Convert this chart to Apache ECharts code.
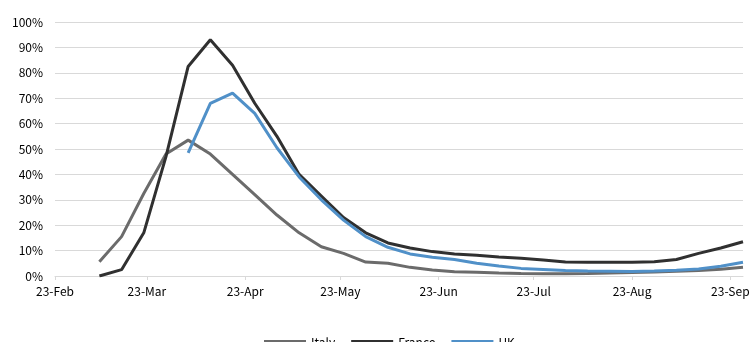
<!DOCTYPE html>
<html>
<head>
<meta charset="utf-8">
<script src="https://cdn.jsdelivr.net/npm/echarts@6/dist/echarts.min.js"></script>
<style>
html,body{margin:0;padding:0;background:#fff;}
#chart{width:754px;height:342px;}
</style>
</head>
<body>
<div id="chart"></div>
<script>
// Weekly observation dates
var dates = ['2020-03-08','2020-03-15','2020-03-22','2020-03-29','2020-04-05','2020-04-12','2020-04-19','2020-04-26',
  '2020-05-03','2020-05-10','2020-05-17','2020-05-24','2020-05-31','2020-06-07','2020-06-14','2020-06-21','2020-06-28',
  '2020-07-05','2020-07-12','2020-07-19','2020-07-26','2020-08-02','2020-08-09','2020-08-16','2020-08-23','2020-08-30',
  '2020-09-06','2020-09-13','2020-09-20','2020-09-27'];
// Values in percent
var italy = [5.6, 15.5, 32.5, 48, 53.5, 48, 40, 32, 24, 17, 11.5, 8.9, 5.5, 5.0, 3.4, 2.4, 1.7, 1.5, 1.2, 1.0, 0.9, 0.9, 1.0, 1.2, 1.4, 1.6, 1.9, 2.2, 2.7, 3.4];
var france = [0, 2.5, 17, 47, 82.5, 93, 83, 68, 55, 40, 31.5, 23, 17, 13, 11, 9.6, 8.7, 8.2, 7.5, 7, 6.3, 5.5, 5.4, 5.4, 5.4, 5.6, 6.5, 8.9, 11, 13.5];
var uk = [null, null, null, null, 48.5, 68, 72, 64, 50.5, 39, 30, 22, 15.5, 11.3, 8.7, 7.4, 6.5, 5, 3.9, 3.0, 2.6, 2.2, 2.0, 1.9, 1.8, 2.0, 2.3, 2.8, 3.8, 5.4];
// X tick positions and labels
var xTickDates = ['2020-02-23','2020-03-23','2020-04-23','2020-05-23','2020-06-23','2020-07-23','2020-08-23','2020-09-23'];
var xTickLabels = ['23-Feb','23-Mar','23-Apr','23-May','23-Jun','23-Jul','23-Aug','23-Sep'];
var xStart = '2020-02-23', xEnd = '2020-09-27';
var seriesNames = ['Italy','France','UK'];
var seriesColors = ['#6b6b6b','#303030','#5090c8'];

function dayOf(d){ return Math.round((Date.parse(d) - Date.parse(xStart)) / 86400000); }
function pairs(vals){ return dates.map(function(d,i){ return [dayOf(d), vals[i]]; }); }
var tickDays = xTickDates.map(dayOf);
var seriesData = [italy, france, uk];

var chart = echarts.init(document.getElementById('chart'));
var font = '"Noto Sans CJK JP", "Noto Sans", sans-serif';
chart.setOption({
  animation: false,
  backgroundColor: '#ffffff',
  grid: {left: 55, right: 11, top: 22, bottom: 66, containLabel: false},
  xAxis: {
    type: 'value',
    min: 0,
    max: dayOf(xEnd),
    axisLine: {show: true, lineStyle: {color: '#d9d9d9', width: 1}},
    axisTick: {show: true, customValues: tickDays, length: 4, lineStyle: {color: '#d9d9d9'}},
    axisLabel: {
      customValues: tickDays,
      margin: 9,
      color: '#000',
      fontSize: 12,
      fontFamily: font,
      formatter: function(v){
        var i = tickDays.indexOf(Math.round(+v));
        return i >= 0 ? xTickLabels[i] : '';
      }
    },
    splitLine: {show: false}
  },
  yAxis: {
    type: 'value',
    min: 0, max: 100, interval: 10,
    axisLine: {show: false},
    axisTick: {show: false},
    axisLabel: {margin: 12, color: '#000', fontSize: 12, fontFamily: font, formatter: function(v){ return v + '%'; }},
    splitLine: {lineStyle: {color: '#d9d9d9', width: 1}}
  },
  legend: {
    data: seriesNames.map(function(n, i){ return {name: n, itemStyle: {color: seriesColors[i]}}; }),
    left: 259, top: 331,
    icon: 'rect', itemWidth: 42, itemHeight: 4, itemGap: 16,
    textStyle: {color: '#000', fontSize: 12, fontFamily: font}
  },
  series: seriesNames.map(function(n, i){
    return {name: n, type: 'line', data: pairs(seriesData[i]), symbol: 'none',
      lineStyle: {width: 3, color: seriesColors[i]}, itemStyle: {color: seriesColors[i]}};
  })
});
</script>
</body>
</html>
